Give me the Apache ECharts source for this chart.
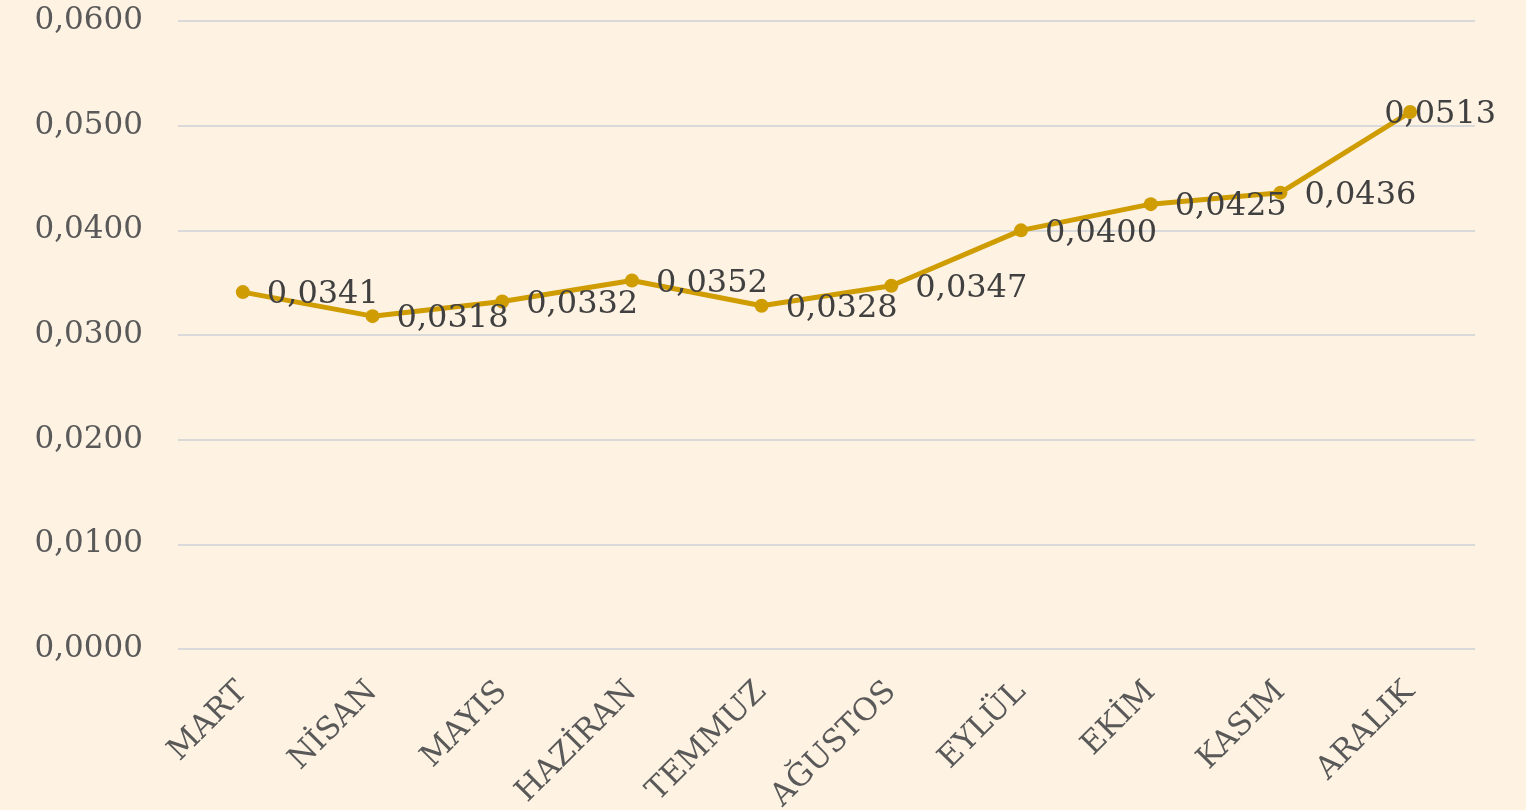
<!DOCTYPE html>
<html>
<head>
<meta charset="utf-8">
<title>chart</title>
<script src="https://cdn.jsdelivr.net/npm/echarts@6/dist/echarts.min.js"></script>
<style>
  html, body { margin: 0; padding: 0; background: #FEF2E2; }
  #main { width: 1526px; height: 810px; }
</style>
</head>
<body>
<div id="main"></div>
<script type="text/javascript">
var months = ['MART', 'NİSAN', 'MAYIS', 'HAZİRAN', 'TEMMUZ', 'AĞUSTOS', 'EYLÜL', 'EKİM', 'KASIM', 'ARALIK'];
var values = [0.0341, 0.0318, 0.0332, 0.0352, 0.0328, 0.0347, 0.0400, 0.0425, 0.0436, 0.0513];

function fmt(v) {
    return v.toFixed(4).replace('.', ',');
}

var seriesData = values.map(function (v, i) {
    var item = { value: v };
    // last label sits over the point, like the original
    if (i === values.length - 1) {
        item.label = { position: 'inside', offset: [30, 3] };
    }
    return item;
});

var myChart = echarts.init(document.getElementById('main'));
var option = {
    backgroundColor: '#FEF2E2',
    animation: false,
    grid: { left: 178, right: 51, top: 21, bottom: 161, outerBoundsMode: 'none', containLabel: false },
    xAxis: {
        type: 'category',
        boundaryGap: true,
        data: months,
        axisLine: { show: false },
        axisTick: { show: false },
        axisLabel: {
            rotate: 45,
            interval: 0,
            margin: 38,
            color: '#595959',
            fontFamily: 'DejaVu Serif',
            fontSize: 31
        }
    },
    yAxis: {
        type: 'value',
        min: 0,
        max: 0.06,
        interval: 0.01,
        axisLine: { show: false },
        axisTick: { show: false },
        splitLine: { lineStyle: { color: '#D9D9D9', width: 2 } },
        axisLabel: {
            margin: 35,
            color: '#595959',
            fontFamily: 'DejaVu Serif',
            fontSize: 31,
            formatter: fmt
        }
    },
    series: [{
        type: 'line',
        data: seriesData,
        symbol: 'circle',
        symbolSize: 14,
        lineStyle: { color: '#CF9D02', width: 5 },
        itemStyle: { color: '#CF9D02' },
        label: {
            show: true,
            position: 'right',
            distance: 17,
            offset: [0, 3],
            color: '#404040',
            fontFamily: 'DejaVu Serif',
            fontSize: 32,
            formatter: function (p) { return fmt(p.value); }
        }
    }]
};
myChart.setOption(option);
</script>
</body>
</html>
